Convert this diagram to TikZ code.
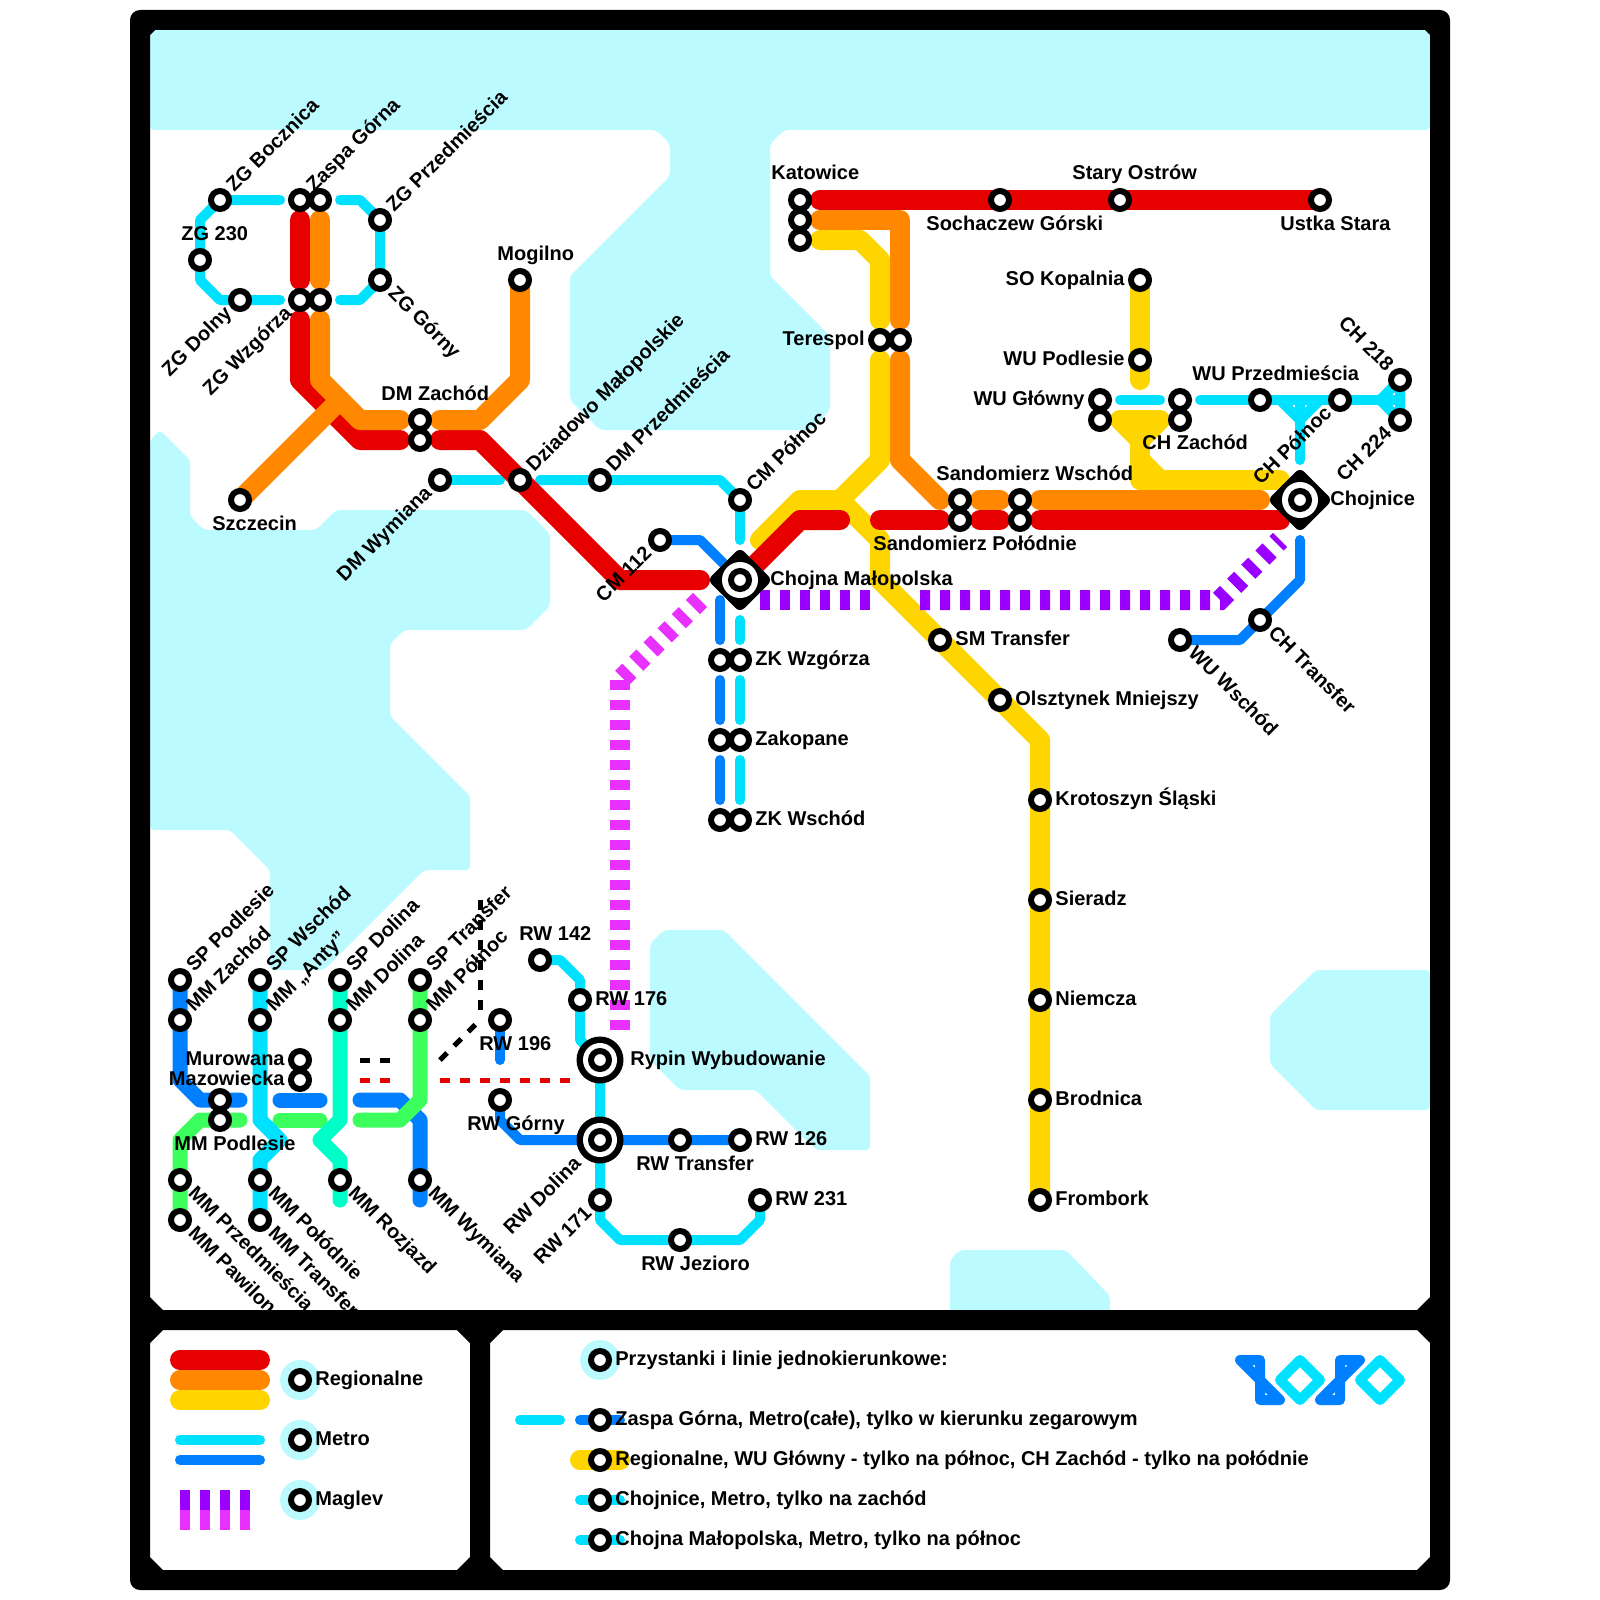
\documentclass[tikz,border=0pt]{standalone}
\usepackage{fontspec}
\setmainfont{Liberation Sans}
\definecolor{water}{HTML}{BBFBFF}
\definecolor{lred}{HTML}{E60000}
\definecolor{lorange}{HTML}{FF8800}
\definecolor{lyellow}{HTML}{FFD500}
\definecolor{lcyan}{HTML}{00E1FF}
\definecolor{lblue}{HTML}{0080FF}
\definecolor{lgreen}{HTML}{3CFF5E}
\definecolor{lteal}{HTML}{00FFC8}
\definecolor{lpurple}{HTML}{9900FF}
\definecolor{lpink}{HTML}{E830FF}
\tikzset{
  ln/.style={line cap=round, line join=round},
  regio/.style={ln, line width=10pt},
  metro/.style={ln, line width=5pt},
  metrob/.style={ln, line width=7.5pt},
  maglev/.style={line width=10pt, dash pattern=on 5pt off 5pt},
  thindash/.style={line width=2.5pt, dash pattern=on 5pt off 5pt},
  station/.style={circle, draw=black, fill=white, line width=3pt, minimum size=9pt, inner sep=0pt},
  halo/.style={circle, fill=water, minimum size=20pt, inner sep=0pt},
  lab/.style={font=\fontsize{10}{12}\selectfont\bfseries, inner sep=0pt},
  rightlab/.style={lab, anchor=base west, xshift=7.5pt, yshift=-2.5pt},
  leftlab/.style={lab, anchor=base east, xshift=-7.5pt, yshift=-2.5pt},
  uplab/.style={rotate=45, rightlab},
  upend/.style={rotate=45, leftlab},
  downlab/.style={rotate=-45, rightlab},
  downend/.style={rotate=-45, leftlab},
}
\begin{document}
\begin{tikzpicture}[x=0.5pt, y=-0.5pt]
  \useasboundingbox (0,0) rectangle (1600,1600);
  % woda
  \fill[water, rounded corners=2pt] (150,30) -- (1430,30) -- (1430,130) -- (784,130) -- (770,144) -- (770,276) -- (830,336) -- (830,410) -- (810,430) -- (600,430) -- (570,400) -- (570,276) -- (670,176) -- (670,144) -- (656,130) -- (150,130) -- cycle;
  \fill[water, rounded corners=2pt] (150,440) -- (160,430) -- (190,460) -- (190,516) -- (204,530) -- (316,530) -- (336,510) -- (526,510) -- (550,534) -- (550,606) -- (526,630) -- (404,630) -- (390,644) -- (390,716) -- (470,796) -- (470,870) -- (424,870) -- (324,970) -- (270,970) -- (270,870) -- (230,830) -- (150,830) -- cycle;
  \fill[water, rounded corners=2pt] (650,944) -- (664,930) -- (724,930) -- (870,1076) -- (870,1150) -- (816,1150) -- (756,1090) -- (680,1090) -- (650,1060) -- cycle;
  \fill[water, rounded corners=2pt] (1270,1015) -- (1316,970) -- (1430,970) -- (1430,1110) -- (1316,1110) -- (1270,1064) -- cycle;
  \fill[water, rounded corners=2pt] (950,1260) -- (960,1250) -- (1066,1250) -- (1110,1296) -- (1110,1320) -- (950,1320) -- cycle;
  % stacje
  \foreach \nm/\px/\py in {zgb/220/200, zga/300/200, zgc/320/200, zgp/380/220, zgt/200/260, zgg/380/280, zgd/240/300,
      zwa/300/300, zwb/320/300, mog/520/280, dza/420/420, dzb/420/440, szc/240/500, dmw/440/480, dzi/520/480, dmp/600/480,
      cmp/740/500, cma/660/540, chm/740/580, zka/720/660, zkb/740/660, zaa/720/740, zab/740/740, zwc/720/820, zwd/740/820,
      kaa/800/200, kab/800/220, kac/800/240, soc/1000/200, sta/1120/200, ust/1320/200, tea/880/340, teb/900/340,
      sok/1140/280, wup/1140/360, wga/1100/400, wgb/1100/420, cza/1180/400, czb/1180/420, wpr/1260/400, cpn/1340/400,
      cha/1400/380, chb/1400/420, chn/1300/500, saa/960/500, sab/960/520, sac/1020/500, sad/1020/520,
      smt/940/640, ols/1000/700, kro/1040/800, sie/1040/900, nie/1040/1000, bro/1040/1100, fro/1040/1200,
      cht/1260/620, wuw/1180/640,
      spp/180/980, mza/180/1020, spw/260/980, man/260/1020, spd/340/980, mdo/340/1020, spt/420/980, mpn/420/1020,
      mua/300/1060, mub/300/1080, mpa/220/1100, mpb/220/1120, mpr/180/1180, mpw/180/1220, mpo/260/1180, mtr/260/1220,
      mro/340/1180, mwy/420/1180, rwa/540/960, rwb/580/1000, rwc/500/1020, rwg/500/1100, ryp/600/1060, rwd/600/1140,
      rwt/680/1140, rwf/740/1140, rwq/600/1200, rwj/680/1240, rwe/760/1200}
    \coordinate (\nm) at (\px,\py);
  % linie metra
  \draw[metro, lcyan] (280,200) -- (zgb) -- (200,220) -- (zgt) -- (200,280) -- (220,300) -- (280,300);
  \draw[metro, lcyan] (340,200) -- (360,200) -- (zgp) -- (zgg) -- (360,300) -- (340,300);
  \draw[metro, lcyan] (dmw) -- (500,480);
  \draw[metro, lcyan] (540,480) -- (dmp) -- (720,480) -- (cmp) -- (740,540);
  \draw[metro, lcyan] (740,620) -- (740,640);
  \draw[metro, lcyan] (740,680) -- (740,720);
  \draw[metro, lcyan] (740,760) -- (740,800);
  \draw[metro, lblue] (720,600) -- (720,640);
  \draw[metro, lblue] (720,680) -- (720,720);
  \draw[metro, lblue] (720,760) -- (720,800);
  \draw[metro, lblue] (cma) -- (700,540) -- (chm);
  \draw[metro, lcyan] (1120,400) -- (1160,400);
  \draw[metro, lcyan] (1200,400) -- (wpr) -- (cpn) -- (1400,400);
  \draw[metro, lcyan] (1280,400) -- (1300,420) -- (1320,400);
  \draw[metro, lcyan] (1300,400) -- (1300,460);
  \draw[metro, lcyan] (cha) -- (1380,400) -- (chb) -- cycle;
  \draw[metro, lblue] (1300,540) -- (1300,580) -- (cht) -- (1240,640) -- (wuw);
  \draw[metro, lcyan] (rwa) -- (560,960) -- (580,980) -- (rwb) -- (580,1040) -- (ryp) -- (rwq) -- (600,1220) -- (620,1240) -- (rwj) -- (740,1240) -- (760,1220) -- (rwe);
  \draw[metro, lblue] (rwc) -- (500,1060);
  \draw[metro, lblue] (rwg) -- (500,1120) -- (520,1140) -- (rwd) -- (rwf);
  % linie MM
  \draw[metrob, lblue] (spp) -- (180,1080) -- (200,1100) -- (240,1100);
  \draw[metrob, lblue] (280,1100) -- (320,1100);
  \draw[metrob, lblue] (360,1100) -- (400,1100) -- (420,1120) -- (420,1200);
  \draw[metrob, lgreen] (mpw) -- (180,1140) -- (200,1120) -- (240,1120);
  \draw[metrob, lgreen] (280,1120) -- (320,1120);
  \draw[metrob, lgreen] (360,1120) -- (400,1120) -- (420,1100) -- (spt);
  \draw[metrob, lcyan] (spw) -- (260,1120) -- (280,1140) -- (260,1160) -- (mtr);
  \draw[metrob, lteal] (spd) -- (340,1120) -- (320,1140) -- (340,1160) -- (340,1200);
  % przerywane
  \draw[thindash, black] (360,1060) -- (390,1060);
  \draw[thindash, black] (440,1060) -- (480,1020);
  \draw[thindash, black] (480,1010) -- (480,900);
  \draw[thindash, lred] (360,1080) -- (390,1080);
  \draw[thindash, lred] (440,1080) -- (570,1080);
  % linie regionalne
  \draw[regio, lyellow] (820,240) -- (860,240) -- (880,260) -- (880,320);
  \draw[regio, lyellow] (880,360) -- (880,460) -- (840,500) -- (800,500) -- (760,540);
  \draw[regio, lyellow] (840,500) -- (880,540) -- (880,580) -- (smt) -- (ols) -- (1040,740) -- (fro);
  \draw[regio, lyellow] (sok) -- (1140,380);
  \draw[regio, lyellow] (1120,420) -- (1160,420) -- (1140,440) -- cycle;
  \draw[regio, lyellow] (1140,440) -- (1140,480) -- (1280,480);
  \draw[regio, lyellow] (1140,460) -- (1160,480);
  \draw[regio, lorange] (820,220) -- (900,220) -- (900,320);
  \draw[regio, lorange] (900,360) -- (900,460) -- (940,500);
  \draw[regio, lorange] (980,500) -- (1000,500);
  \draw[regio, lorange] (1040,500) -- (1260,500);
  \draw[regio, lred] (300,320) -- (300,380) -- (360,440) -- (400,440);
  \draw[regio, lred] (300,220) -- (300,280);
  \draw[regio, lred] (440,440) -- (480,440) -- (620,580) -- (700,580);
  \draw[regio, lred] (820,200) -- (soc) -- (sta) -- (ust);
  \draw[regio, lred] (chm) -- (800,520) -- (840,520);
  \draw[regio, lred] (880,520) -- (940,520);
  \draw[regio, lred] (980,520) -- (1000,520);
  \draw[regio, lred] (1040,520) -- (1280,520);
  \draw[regio, lorange] (320,220) -- (320,280);
  \draw[regio, lorange] (320,320) -- (320,380) -- (360,420) -- (400,420);
  \draw[regio, lorange] (440,420) -- (480,420) -- (520,380) -- (mog);
  \draw[regio, lorange] (szc) -- (340,400);
  % maglev
  \draw[maglev, lpurple] (760,600) -- (870,600);
  \draw[maglev, lpurple] (920,600) -- (1220,600) -- (1280,540);
  \draw[maglev, lpink] (620,1030) -- (620,680);
  \draw[maglev, lpink] (700,600) -- (620,680);
  % przesiadki
  \foreach \a/\b in {zga/zgc, zwa/zwb, dza/dzb, zka/zkb, zaa/zab, zwc/zwd, tea/teb, wga/wgb, cza/czb, saa/sab, sac/sad, mua/mub, mpa/mpb}
    \draw[black, line width=7pt] (\a) -- (\b);
  \draw[black, line width=7pt] (kaa) -- (kac);
  % wezly
  \foreach \nm in {chm, chn} {
    \fill[black, draw=black, line width=6pt, line join=round] ([shift={(0,-24)}]\nm) -- ([shift={(24,0)}]\nm) -- ([shift={(0,24)}]\nm) -- ([shift={(-24,0)}]\nm) -- cycle;
    \node[circle, fill=white, minimum size=18pt, inner sep=0pt] (w-\nm) at (\nm) {};
  }
  \foreach \nm in {ryp, rwd} {
    \node[circle, fill=black, minimum size=23.5pt, inner sep=0pt] (o-\nm) at (\nm) {};
    \node[circle, fill=white, minimum size=17pt, inner sep=0pt] (w-\nm) at (\nm) {};
  }
  \foreach \nm in {zgb, zga, zgc, zgp, zgt, zgg, zgd, zwa, zwb, mog, dza, dzb, szc, dmw, dzi, dmp, cmp, cma, chm, zka, zkb, zaa, zab, zwc, zwd,
      kaa, kab, kac, soc, sta, ust, tea, teb, sok, wup, wga, wgb, cza, czb, wpr, cpn, cha, chb, chn, saa, sab, sac, sad,
      smt, ols, kro, sie, nie, bro, fro, cht, wuw, spp, mza, spw, man, spd, mdo, spt, mpn, mua, mub, mpa, mpb, mpr, mpw, mpo, mtr,
      mro, mwy, rwa, rwb, rwc, rwg, ryp, rwd, rwt, rwf, rwq, rwj, rwe}
    \node[station] (s-\nm) at (\nm) {};
  % opisy
  \foreach \nm/\txt in {smt/SM Transfer, ols/Olsztynek Mniejszy, zkb/ZK Wzgórza, zab/Zakopane, zwd/ZK Wschód, kro/Krotoszyn Śląski,
      sie/Sieradz, nie/Niemcza, bro/Brodnica, fro/Frombork, rwb/RW 176, rwf/RW 126, rwe/RW 231}
    \node[rightlab] (l-\nm) at (\nm) {\txt};
  \foreach \nm/\txt in {tea/Terespol, sok/SO Kopalnia, wup/WU Podlesie, wga/WU Główny, mua/Murowana, mub/Mazowiecka}
    \node[leftlab] (l-\nm) at (\nm) {\txt};
  \foreach \nm/\txt in {zgb/ZG Bocznica, zga/Zaspa Górna, zgp/ZG Przedmieścia, dzi/Dziadowo Małopolskie, dmp/DM Przedmieścia, cmp/CM Północ,
      spp/SP Podlesie, mza/MM Zachód, spw/SP Wschód, man/MM „Anty”, spd/SP Dolina, mdo/MM Dolina, spt/SP Transfer, mpn/MM Północ}
    \node[uplab] (l-\nm) at (\nm) {\txt};
  \foreach \nm/\txt in {zgd/ZG Dolny, zwa/ZG Wzgórza, dmw/DM Wymiana, cma/CM 112, cpn/CH Północ, chb/CH 224, rwq/RW 171}
    \node[upend] (l-\nm) at (\nm) {\txt};
  \foreach \nm/\txt in {zgg/ZG Górny, wuw/WU Wschód, cht/CH Transfer, mpr/MM Przedmieścia, mpw/MM Pawilon, mpo/MM Połódnie, mtr/MM Transfer,
      mro/MM Rozjazd, mwy/MM Wymiana}
    \node[downlab] (l-\nm) at (\nm) {\txt};
  \node[downend] (l-cha) at (cha) {CH 218};
  \node[upend, xshift=-7.5pt] (l-rwd) at (rwd) {RW Dolina};
  \node[rightlab, xshift=7.5pt] (l-chn) at (chn) {Chojnice};
  \node[rightlab, xshift=7.5pt] (l-chm) at (chm) {Chojna Małopolska};
  \node[rightlab, xshift=7.5pt] (l-ryp) at (ryp) {Rypin Wybudowanie};
  \foreach \nm/\px/\py/\txt in {zgt/181/240/ZG 230, mog/497/260/Mogilno, dza/381/400/DM Zachód, szc/212/530/Szczecin, kaa/771/179/Katowice,
      sta/1072/179/Stary Ostrów, soc/926/230/Sochaczew Górski, ust/1280/230/Ustka Stara, wpr/1192/380/WU Przedmieścia, czb/1142/449/CH Zachód,
      saa/936/480/Sandomierz Wschód, sab/873/550/Sandomierz Połódnie, rwa/519/940/RW 142, rwc/479/1050/RW 196, mpa/174/1150/MM Podlesie,
      rwg/467/1130/RW Górny, rwt/636/1170/RW Transfer, rwj/641/1270/RW Jezioro}
    \node[lab, anchor=base west] (l-\nm) at (\px,\py) {\txt};
  % rama
  \fill[black, even odd rule] [rounded corners=5pt] (130,10) rectangle (1450,1590) [sharp corners]
    (150,35) -- (155,30) -- (1425,30) -- (1430,35) -- (1430,1297) -- (1417,1310) -- (163,1310) -- (150,1297) -- cycle
    (163,1330) -- (457,1330) -- (470,1343) -- (470,1557) -- (457,1570) -- (163,1570) -- (150,1557) -- (150,1343) -- cycle
    (503,1330) -- (1417,1330) -- (1430,1343) -- (1430,1557) -- (1417,1570) -- (503,1570) -- (490,1557) -- (490,1343) -- cycle;
  % legenda
  \draw[regio, lred] (180,1360) -- (260,1360);
  \draw[regio, lorange] (180,1380) -- (260,1380);
  \draw[regio, lyellow] (180,1400) -- (260,1400);
  \draw[metro, lcyan] (180,1440) -- (260,1440);
  \draw[metro, lblue] (180,1460) -- (260,1460);
  \foreach \px in {180,200,220,240} {
    \fill[lpurple] (\px,1490) rectangle ++(10,20);
    \fill[lpink] (\px,1510) rectangle ++(10,20);
  }
  \foreach \nm/\py/\txt in {lga/1380/Regionalne, lgb/1440/Metro, lgc/1500/Maglev} {
    \node[halo] (h-\nm) at (300,\py) {};
    \node[station] (s-\nm) at (300,\py) {};
    \node[rightlab] (l-\nm) at (s-\nm.center) {\txt};
  }
  \draw[metro, lcyan] (520,1420) -- (560,1420);
  \draw[metro, lblue] (580,1420) -- (620,1420);
  \draw[regio, lyellow] (580,1460) -- (620,1460);
  \draw[metro, lcyan] (580,1500) -- (620,1500);
  \draw[metro, lcyan] (580,1540) -- (620,1540);
  \node[halo] (h-lgd) at (600,1360) {};
  \foreach \nm/\py/\txt in {lgd/1360/Przystanki i linie jednokierunkowe:, lge/1420/{Zaspa Górna, Metro(całe), tylko w kierunku zegarowym},
      lgf/1460/{Regionalne, WU Główny - tylko na północ, CH Zachód - tylko na połódnie}, lgg/1500/{Chojnice, Metro, tylko na zachód},
      lgh/1540/{Chojna Małopolska, Metro, tylko na północ}} {
    \node[station] (s-\nm) at (600,\py) {};
    \node[rightlab] (l-\nm) at (s-\nm.center) {\txt};
  }
  % znak
  \draw[metro, lblue] (1240,1360) -- (1260,1360) -- (1260,1400) -- (1280,1400) -- cycle;
  \draw[metro, lblue] (1360,1360) -- (1340,1360) -- (1340,1400) -- (1320,1400) -- cycle;
  \draw[metro, lcyan] (1300,1360) -- (1320,1380) -- (1300,1400) -- (1280,1380) -- cycle;
  \draw[metro, lcyan] (1380,1360) -- (1400,1380) -- (1380,1400) -- (1360,1380) -- cycle;
\end{tikzpicture}
\end{document}
